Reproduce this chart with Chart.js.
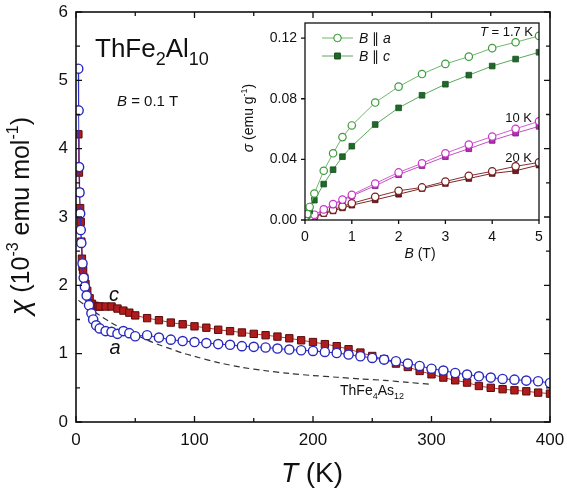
<!DOCTYPE html>
<html>
<head>
<meta charset="utf-8">
<script src="https://cdn.jsdelivr.net/npm/chart.js@4.4.1/dist/chart.umd.min.js"></script>
<style>
  html, body { margin: 0; padding: 0; background: #fff; }
  #wrap { position: relative; width: 567px; height: 495px; }
  #main { position: absolute; left: 0; top: 0; }
  #inset { position: absolute; left: 240px; top: 0; }
</style>
</head>
<body>
<div id="wrap">
  <canvas id="main" width="567" height="495"></canvas>
  <canvas id="inset" width="320" height="270"></canvas>
</div>
<script>
const FONT = "'Liberation Sans', Arial, sans-serif"

// main panel: chi(T), B = 0.1 T
const tempA = [1.9, 2.2, 2.6, 3, 3.5, 4, 4.5, 5.5, 6.5, 7.5, 9, 11, 13, 14.5, 17, 20, 25, 30, 35, 40, 45, 50,
  60, 70, 80, 90, 100, 110, 120, 130, 140, 150, 160, 170, 180, 190, 200, 210, 220, 230, 240, 250, 260, 270,
  280, 290, 300, 310, 320, 330, 340, 350, 360, 370, 380, 390, 400]
const chiA = [5.17, 4.56, 3.73, 3.36, 3.05, 2.81, 2.62, 2.32, 2.11, 1.98, 1.85, 1.71, 1.59, 1.50, 1.415, 1.37, 1.33, 1.32, 1.29, 1.33, 1.30, 1.255,
  1.27, 1.235, 1.205, 1.185, 1.17, 1.155, 1.14, 1.13, 1.11, 1.10, 1.09, 1.075, 1.06, 1.05, 1.04, 1.025, 1.01, 0.987, 0.962, 0.937, 0.913, 0.889,
  0.855, 0.82, 0.78, 0.752, 0.717, 0.694, 0.669, 0.65, 0.63, 0.62, 0.606, 0.596, 0.571]

const tempC = [2, 2.5, 3, 3.5, 4, 4.5, 5, 5.5, 6, 7, 8, 9.5, 11.5, 13.5, 16, 18.5, 20, 25, 30, 35, 40, 45, 50,
  60, 70, 80, 90, 100, 110, 120, 130, 140, 150, 160, 170, 180, 190, 200, 210, 220, 230, 240, 250, 260, 270,
  280, 290, 300, 310, 320, 330, 340, 350, 360, 370, 380, 390, 400]
const chiC = [4.21, 3.65, 3.36, 3.13, 2.93, 2.64, 2.39, 2.27, 2.22, 2.11, 2.02, 1.92, 1.81, 1.73, 1.70, 1.69, 1.69, 1.69, 1.69, 1.66, 1.63, 1.60, 1.56,
  1.52, 1.49, 1.455, 1.43, 1.40, 1.38, 1.35, 1.33, 1.31, 1.29, 1.27, 1.25, 1.225, 1.196, 1.17, 1.14, 1.11, 1.065, 1.016, 0.966, 0.918, 0.855,
  0.805, 0.747, 0.698, 0.65, 0.61, 0.577, 0.527, 0.50, 0.48, 0.464, 0.449, 0.43, 0.415]

const tempRef = [2, 10, 20, 30, 40, 50, 60, 70, 80, 90, 100, 120, 140, 160, 180, 200, 220, 240, 260, 280, 300]
const chiRef = [1.78, 1.68, 1.56, 1.45, 1.36, 1.28, 1.20, 1.13, 1.07, 1.01, 0.96, 0.87, 0.80, 0.75, 0.71, 0.68, 0.655, 0.63, 0.61, 0.58, 0.55]

const tempTicks = [0, 100, 200, 300, 400]
const chiTicks = [0, 1, 2, 3, 4, 5, 6]

// inset: sigma(B)
const fieldB = [0, 0.05, 0.1, 0.2, 0.4, 0.6, 0.8, 1, 1.5, 2, 2.5, 3, 3.5, 4, 4.5, 5]
const sig17a = [0, 0.004, 0.0086, 0.0175, 0.0325, 0.044, 0.0547, 0.0624, 0.0775, 0.088, 0.0963, 0.103, 0.1078, 0.1134, 0.1173, 0.1215]
const sig17c = [0, 0.003, 0.006, 0.0131, 0.0237, 0.0332, 0.0418, 0.0487, 0.063, 0.074, 0.0823, 0.0896, 0.0956, 0.1016, 0.1062, 0.1107]
const sig10a = [0, 0.001, 0.002, 0.0035, 0.007, 0.0105, 0.0135, 0.0166, 0.0241, 0.0314, 0.0374, 0.044, 0.0498, 0.0551, 0.0602, 0.0651]
const sig10c = [0, 0.001, 0.002, 0.0033, 0.0068, 0.01, 0.013, 0.0159, 0.0226, 0.0299, 0.0359, 0.0418, 0.047, 0.0525, 0.0573, 0.0618]
const sig20a = [0, 0.0006, 0.0012, 0.0024, 0.0048, 0.0068, 0.009, 0.011, 0.0153, 0.0193, 0.0215, 0.0254, 0.0292, 0.0321, 0.0354, 0.038]
const sig20c = [0, 0.0005, 0.001, 0.002, 0.0042, 0.006, 0.008, 0.0098, 0.0133, 0.017, 0.0208, 0.0241, 0.0274, 0.0307, 0.0325, 0.0363]
const fieldTicks = [0, 1, 2, 3, 4, 5]
const sigTicks = [0, 0.04, 0.08, 0.12]

const pts = (xs, ys) => xs.map((x, i) => ({ x, y: ys[i] }))

// draw a run of text pieces; each piece {t, size, italic, dy}
const rich = (ctx, parts, x, y, align) => {
  let w = 0
  parts.forEach(p => {
    ctx.font = (p.italic ? 'italic ' : '') + p.size + 'px ' + FONT
    p.w = ctx.measureText(p.t).width
    w += p.w
  })
  let cx = align === 'center' ? x - w / 2 : align === 'right' ? x - w : x
  ctx.textAlign = 'left'
  ctx.textBaseline = 'alphabetic'
  parts.forEach(p => {
    ctx.font = (p.italic ? 'italic ' : '') + p.size + 'px ' + FONT
    ctx.fillText(p.t, cx, y + (p.dy || 0))
    cx += p.w
  })
}

// keep label overhang from shrinking the plot area
const fitX = h => s => { s.height = h; s.paddingLeft = 0; s.paddingRight = 0 }
const fitY = w => s => { s.width = w; s.paddingTop = 0; s.paddingBottom = 0 }

const mainFrame = {
  id: 'mainFrame',
  afterDraw(chart) {
    const { ctx, chartArea: a, scales } = chart
    ctx.save()
    ctx.strokeStyle = '#111'
    ctx.lineWidth = 1.6
    ctx.strokeRect(a.left, a.top, a.right - a.left, a.bottom - a.top)
    ctx.lineWidth = 1.3
    ctx.beginPath()
    for (let t = 0; t <= 400; t += 50) {
      const px = scales.x.getPixelForValue(t)
      const len = t % 100 === 0 ? 6 : 4
      ctx.moveTo(px, a.bottom); ctx.lineTo(px, a.bottom - len)
      ctx.moveTo(px, a.top); ctx.lineTo(px, a.top + len)
    }
    for (let v = 0; v <= 6; v += 0.5) {
      const py = scales.y.getPixelForValue(v)
      const len = v % 1 === 0 ? 6 : 4
      ctx.moveTo(a.left, py); ctx.lineTo(a.left + len, py)
      ctx.moveTo(a.right, py); ctx.lineTo(a.right - len, py)
    }
    ctx.stroke()

    ctx.fillStyle = '#111'
    // axis titles
    ctx.save()
    ctx.translate(29, 216)
    ctx.rotate(-Math.PI / 2)
    rich(ctx, [
      { t: 'χ', size: 28, italic: true },
      { t: ' (10', size: 25 },
      { t: '-3', size: 16, dy: -11 },
      { t: ' emu mol', size: 25 },
      { t: '-1', size: 16, dy: -11 },
      { t: ')', size: 25 }
    ], 0, 0, 'center')
    ctx.restore()
    rich(ctx, [{ t: 'T', size: 28, italic: true }, { t: ' (K)', size: 28 }], 312, 482, 'center')

    // compound labels
    rich(ctx, [
      { t: 'ThFe', size: 26 }, { t: '2', size: 18, dy: 8 },
      { t: 'Al', size: 26 }, { t: '10', size: 18, dy: 8 }
    ], 95, 57, 'left')
    rich(ctx, [{ t: 'B', size: 15, italic: true }, { t: ' = 0.1 T', size: 15 }], 117, 106, 'left')
    rich(ctx, [{ t: 'c', size: 20, italic: true }], 114, 301, 'center')
    rich(ctx, [{ t: 'a', size: 20, italic: true }], 115, 354, 'center')
    rich(ctx, [
      { t: 'ThFe', size: 14 }, { t: '4', size: 9, dy: 4 },
      { t: 'As', size: 14 }, { t: '12', size: 9, dy: 4 }
    ], 340, 395, 'left')
    ctx.restore()
  }
}

new Chart(document.getElementById('main'), {
  type: 'scatter',
  data: {
    datasets: [
      {
        label: 'a',
        data: pts(tempA, chiA),
        showLine: true,
        borderColor: '#2e2ec8',
        borderWidth: 1,
        pointStyle: 'circle',
        pointRadius: 4.6,
        pointBorderWidth: 1.4,
        pointBackgroundColor: '#fff',
        pointBorderColor: '#2828c0',
      },
      {
        label: 'c',
        data: pts(tempC, chiC),
        showLine: true,
        borderColor: '#c83232',
        borderWidth: 1,
        pointStyle: 'rect',
        pointRadius: 5.2,
        pointBorderWidth: 1,
        pointBackgroundColor: '#b01c1c',
        pointBorderColor: '#5a0c0c',
      },
      {
        label: 'ThFe4As12',
        data: pts(tempRef, chiRef),
        showLine: true,
        borderColor: '#333',
        borderWidth: 1.2,
        borderDash: [6, 4],
        pointRadius: 0,
        tension: 0.3,
      },
    ],
  },
  options: {
    responsive: false,
    animation: false,
    events: [],
    layout: { padding: { top: 12, right: 17, left: 0, bottom: 0 } },
    plugins: { legend: { display: false }, tooltip: { enabled: false } },
    scales: {
      x: {
        type: 'linear', min: 0, max: 400,
        afterFit: fitX(73),
        afterBuildTicks: s => { s.ticks = tempTicks.map(v => ({ value: v })) },
        grid: { display: false, drawTicks: false },
        border: { display: false },
        ticks: { padding: 8, color: '#111', font: { size: 17, family: FONT } },
      },
      y: {
        type: 'linear', min: 0, max: 6,
        afterFit: fitY(76),
        afterBuildTicks: s => { s.ticks = chiTicks.map(v => ({ value: v })) },
        grid: { display: false, drawTicks: false },
        border: { display: false },
        ticks: { padding: 8, color: '#111', font: { size: 17, family: FONT } },
      },
    },
  },
  plugins: [mainFrame],
})

const insetFrame = {
  id: 'insetFrame',
  afterDraw(chart) {
    const { ctx, chartArea: a, scales } = chart
    ctx.save()
    ctx.strokeStyle = '#111'
    ctx.lineWidth = 1.3
    ctx.strokeRect(a.left, a.top, a.right - a.left, a.bottom - a.top)
    ctx.beginPath()
    fieldTicks.forEach(b => {
      const px = scales.x.getPixelForValue(b)
      ctx.moveTo(px, a.bottom); ctx.lineTo(px, a.bottom + 4)
    })
    sigTicks.forEach(v => {
      const py = scales.y.getPixelForValue(v)
      ctx.moveTo(a.left, py); ctx.lineTo(a.left - 4, py)
    })
    ctx.stroke()

    ctx.fillStyle = '#111'
    ctx.save()
    ctx.translate(13, 118)
    ctx.rotate(-Math.PI / 2)
    rich(ctx, [
      { t: 'σ', size: 14, italic: true }, { t: ' (emu g', size: 14 },
      { t: '-1', size: 9, dy: -6 }, { t: ')', size: 14 }
    ], 0, 0, 'center')
    ctx.restore()
    rich(ctx, [{ t: 'B', size: 14, italic: true }, { t: ' (T)', size: 14 }], 180, 258, 'center')

    // legend
    const leg = [
      { y: 38, ds: chart.data.datasets[0], sym: 'a' },
      { y: 56, ds: chart.data.datasets[1], sym: 'c' },
    ]
    leg.forEach(l => {
      ctx.strokeStyle = l.ds.borderColor
      ctx.lineWidth = 1
      ctx.beginPath()
      ctx.moveTo(82, l.y); ctx.lineTo(113, l.y)
      ctx.stroke()
      Chart.helpers.drawPoint(ctx, {
        pointStyle: l.ds.pointStyle, radius: l.ds.pointRadius, borderWidth: l.ds.pointBorderWidth,
      }, 97.5, l.y)
      ctx.fillStyle = l.ds.pointBackgroundColor
      ctx.strokeStyle = l.ds.pointBorderColor
      ctx.fill(); ctx.stroke()
      ctx.fillStyle = '#111'
      rich(ctx, [
        { t: 'B', size: 14, italic: true }, { t: ' ∥ ', size: 14 }, { t: l.sym, size: 14, italic: true }
      ], 119, l.y + 5, 'left')
    })
    rich(ctx, [{ t: 'T', size: 13, italic: true }, { t: ' = 1.7 K', size: 13 }], 293, 36, 'right')
    rich(ctx, [{ t: '10 K', size: 13 }], 292, 122, 'right')
    rich(ctx, [{ t: '20 K', size: 13 }], 292, 162, 'right')
    ctx.restore()
  }
}

const openSet = (data, color, line) => ({
  data, showLine: true, borderColor: line, borderWidth: 1,
  pointStyle: 'circle', pointRadius: 3.7, pointBorderWidth: 1.2,
  pointBackgroundColor: '#fff', pointBorderColor: color,
})
const fillSet = (data, color, edge, line) => ({
  data, showLine: true, borderColor: line, borderWidth: 1,
  pointStyle: 'rect', pointRadius: 4, pointBorderWidth: 0.8,
  pointBackgroundColor: color, pointBorderColor: edge,
})

new Chart(document.getElementById('inset'), {
  type: 'scatter',
  data: {
    datasets: [
      openSet(pts(fieldB, sig17a), '#3d9a3d', '#6cb86c'),
      fillSet(pts(fieldB, sig17c), '#1f6a29', '#174f1f', '#5aa85a'),
      openSet(pts(fieldB, sig10a), '#cc33cc', '#d060d0'),
      fillSet(pts(fieldB, sig10c), '#b030b0', '#7a1a7a', '#c050c0'),
      openSet(pts(fieldB, sig20a), '#7a1e1e', '#8a3030'),
      fillSet(pts(fieldB, sig20c), '#7a1c1c', '#4a0a0a', '#7a2a2a'),
    ],
  },
  options: {
    responsive: false,
    animation: false,
    events: [],
    layout: { padding: { top: 23, right: 21, left: 0, bottom: 0 } },
    plugins: { legend: { display: false }, tooltip: { enabled: false } },
    scales: {
      x: {
        type: 'linear', min: 0, max: 5,
        afterFit: fitX(50),
        afterBuildTicks: s => { s.ticks = fieldTicks.map(v => ({ value: v })) },
        grid: { display: false, drawTicks: false },
        border: { display: false },
        ticks: { padding: 9, color: '#111', font: { size: 14, family: FONT } },
      },
      y: {
        type: 'linear', min: 0, max: 0.13,
        afterFit: fitY(65),
        afterBuildTicks: s => { s.ticks = sigTicks.map(v => ({ value: v })) },
        grid: { display: false, drawTicks: false },
        border: { display: false },
        ticks: {
          padding: 8, color: '#111', font: { size: 14, family: FONT },
          callback: v => v.toFixed(2),
        },
      },
    },
  },
  plugins: [insetFrame],
})
</script>
</body>
</html>
